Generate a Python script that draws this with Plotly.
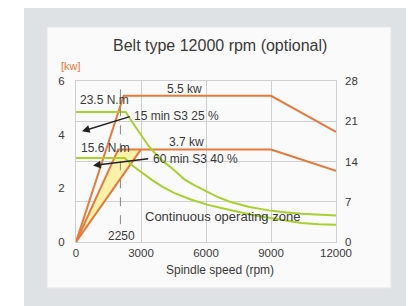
import plotly.graph_objects as go

# ---------------- data ----------------
# power curves (kW, left axis) : rpm / kW
p_s325_rpm = [0, 2200, 9000, 12000]
p_s325_kw = [0, 5.45, 5.45, 4.1]
p_s340_rpm = [0, 1950, 9000, 12000]
p_s340_kw = [0, 3.45, 3.45, 2.65]
p_extra_rpm = [0, 3000]
p_extra_kw = [0, 3.45]
zone_rpm = [0, 1950, 3000, 0]
zone_kw = [0, 3.45, 3.45, 0]

# torque curves (N.m, right axis)
t_upper_rpm = [0, 2300, 2500, 2900, 3350, 3700, 4100, 4500, 5000, 5500, 6000, 6500,
               7100, 8000, 8900, 9500, 10400, 11000, 12000]
t_upper_nm = [22.6, 22.6, 21.4, 19.1, 16.7, 15.2, 13.8, 12.6, 10.9, 9.8, 8.8, 7.9,
              7.0, 6.1, 5.5, 5.2, 4.9, 4.75, 4.6]
t_lower_rpm = [0, 2250, 2600, 3050, 3500, 4000, 4550, 5300, 6050, 6700, 7400, 8100,
               8900, 9600, 10400, 11200, 12000]
t_lower_nm = [14.6, 14.6, 13.3, 12.0, 10.8, 9.6, 8.5, 7.4, 6.5, 5.9, 5.3, 4.75,
              4.2, 3.75, 3.3, 3.1, 3.0]

x_ticks = [0, 3000, 6000, 9000, 12000]
x_tick_text = ["0", "3000", "6000", "9000", "12000"]
kw_ticks = [0, 2, 4, 6]
nm_ticks = [0, 7, 14, 21, 28]
base_speed = 2050
base_label = "2250"

ORANGE = "#e8793a"
GREEN = "#a9d12c"
FONT = "Liberation Sans, Arial, sans-serif"
TXT = "#3a3a3a"

fig = go.Figure()

fig.add_trace(go.Scatter(x=zone_rpm, y=zone_kw, fill="toself", fillcolor="#fbf1a8",
                         line=dict(width=0), mode="lines", hoverinfo="skip"))
for xs, ys in [(p_extra_rpm, p_extra_kw), (p_s340_rpm, p_s340_kw), (p_s325_rpm, p_s325_kw)]:
    fig.add_trace(go.Scatter(x=xs, y=ys, mode="lines",
                             line=dict(color=ORANGE, width=2), hoverinfo="skip"))
for xs, ys in [(t_upper_rpm, t_upper_nm), (t_lower_rpm, t_lower_nm)]:
    fig.add_trace(go.Scatter(x=xs, y=ys, mode="lines", yaxis="y2",
                             line=dict(color=GREEN, width=2),
                             hoverinfo="skip"))

# paper coords relative to the plot area (screen px 76..336, 81..242)
def px2paper_x(px):
    return (px - 76) / 260.0

def px2paper_y(py):
    return (242 - py) / 161.0

shapes = [
    dict(type="rect", xref="paper", yref="paper", layer="below",
         x0=px2paper_x(24), x1=px2paper_x(430), y0=px2paper_y(320), y1=px2paper_y(5),
         fillcolor="#dfe2e5", line=dict(width=0)),
    dict(type="rect", xref="paper", yref="paper", layer="below",
         x0=px2paper_x(47), x1=px2paper_x(391), y0=px2paper_y(288), y1=px2paper_y(27),
         fillcolor="#fafafa", line=dict(color="#e6e6e6", width=1)),
    dict(type="line", xref="x", yref="paper", x0=base_speed, x1=base_speed,
         y0=0.11, y1=1, line=dict(color="#888", width=1, dash="dash")),
]

ann = []
def txt(x, y, s, xanchor="center", size=12, yref="y", color=TXT):
    ann.append(dict(x=x, y=y, xref="x", yref=yref, text=s, showarrow=False,
                    xanchor=xanchor, yanchor="middle", font=dict(size=size, color=color, family=FONT)))

txt(5030, 5.7, "5.5 kw")
txt(5120, 3.71, "3.7 kw")
txt(80, 5.29, "23.5 N.m", xanchor="left")
txt(120, 3.52, "15.6 N.m", xanchor="left")
txt(2600, 4.69, "15 min S3 25 %", xanchor="left")
txt(3480, 3.11, "60 min S3 40 %", xanchor="left")
txt(6780, 0.94, "Continuous operating zone", size=13)
txt(2120, 0.22, base_label)

# arrows
for hx, hy, tx, ty in [(277, 4.125, 2550, 4.69), (785, 2.85, 3400, 3.11)]:
    ann.append(dict(x=hx, y=hy, ax=tx, ay=ty, xref="x", yref="y", axref="x", ayref="y",
                    text="", showarrow=True, arrowhead=2, arrowsize=1.1, arrowwidth=1.4,
                    arrowcolor="#222"))

# title, unit, axis title
def ptxt(px, py, s, size, color=TXT):
    ann.append(dict(x=px2paper_x(px), y=px2paper_y(py), xref="paper", yref="paper",
                    text=s, showarrow=False, xanchor="center", yanchor="middle",
                    font=dict(size=size, color=color, family=FONT)))

ptxt(220, 45, "Belt type 12000 rpm (optional)", 16)
ptxt(71, 66, "[kw]", 11, ORANGE)
ptxt(220, 270, "Spindle speed (rpm)", 12)

fig.update_layout(
    width=414, height=306,
    margin=dict(l=68, r=86, t=73, b=72),
    paper_bgcolor="white", plot_bgcolor="rgba(0,0,0,0)",
    showlegend=False,
    font=dict(family=FONT, size=11, color=TXT),
    shapes=shapes, annotations=ann,
    xaxis=dict(range=[0, 12000], tickvals=x_ticks, ticktext=x_tick_text,
               showgrid=True, gridcolor="#d0d0d0",
               showline=True, linecolor="#cfcfcf", mirror=True, zeroline=False,
               tickfont=dict(size=11.5, color=TXT), ticks=""),
    yaxis=dict(range=[0, 6], tickvals=kw_ticks, showgrid=False, zeroline=False,
               showline=True, linecolor="#cfcfcf", mirror=True,
               tickfont=dict(size=11.5, color=TXT), ticklabelstandoff=8),
    yaxis2=dict(range=[0, 28], tickvals=nm_ticks, overlaying="y", side="right",
                showgrid=True, gridcolor="#d0d0d0", zeroline=False,
                tickfont=dict(size=11.5, color=TXT), ticklabelstandoff=8),
)

fig.write_html("out.html")
